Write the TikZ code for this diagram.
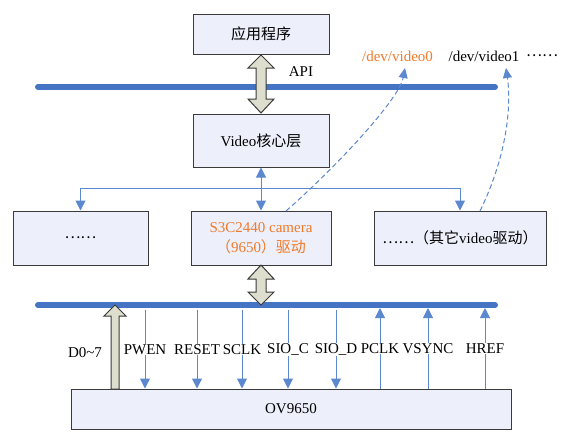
\documentclass[tikz,border=0pt]{standalone}
\usepackage{fontspec}
\setmainfont{Liberation Serif}
\newfontfamily\cjk{Noto Sans CJK SC}
\usetikzlibrary{arrows.meta}
\definecolor{boxfill}{HTML}{EDEFFA}
\definecolor{boxline}{HTML}{3A3A3A}
\definecolor{buscol}{HTML}{4674C4}
\definecolor{conncol}{HTML}{5C88D0}
\definecolor{fatfill}{HTML}{DEDECE}
\definecolor{orangetxt}{HTML}{F07A2A}
\tikzset{
  box/.style={draw=boxline, fill=boxfill, line width=1pt, inner sep=0pt, align=center},
  bus/.style={line width=6pt, draw=buscol, line cap=round},
  conn/.style={line width=1pt, draw=conncol},
  tipt/.style={-{Triangle[length=10pt,width=10pt]}},
  tipboth/.style={{Triangle[length=10pt,width=10pt]}-{Triangle[length=10pt,width=10pt]}},
  fat/.style={draw=boxline, fill=fatfill, line width=1pt, line join=miter},
  dashc/.style={line width=1pt, draw=conncol, dash pattern=on 5pt off 3pt},
  lbl/.style={fill=white, inner sep=0.5pt, text=black},
  txt/.style={inner sep=0pt}
}
\begin{document}
\begin{tikzpicture}[x=1pt,y=-1pt,font=\fontsize{15}{20}\selectfont]
\useasboundingbox (0,0) rectangle (566,434);
\fill[white] (0,0) rectangle (566,434);

% buses
\coordinate (b1l) at (38,87);
\coordinate (b1r) at (495,87);
\coordinate (b2l) at (38,305);
\coordinate (b2r) at (495,305);
\draw[bus] (b1l) -- (b1r);
\draw[bus] (b2l) -- (b2r);

% boxes
\node[box, minimum width=136pt, minimum height=40pt] (app) at (261,34) {{\cjk 应用程序}};
\node[box, minimum width=136pt, minimum height=53pt] (core) at (261,140.5) {Video{\cjk 核心层}};
\node[box, minimum width=135pt, minimum height=54pt] (left) at (80.5,238) {{\cjk ……}};
\node[box, minimum width=140pt, minimum height=54pt, text=orangetxt] (mid) at (261,238) {S3C2440 camera\\{\cjk （}9650{\cjk ）驱动}};
\node[box, minimum width=172pt, minimum height=54pt] (right) at (460,238) {{\cjk ……（其它}video{\cjk 驱动）}};
\node[box, minimum width=440pt, minimum height=40pt] (ov) at (291,409) {OV9650};

% labels
\node[txt] (api) at (301,72) {API};
\node[txt, text=orangetxt] (dv0) at (397.5,56) {/dev/video0};
\node[txt] (dv1) at (484,56) {/dev/video1};
\node[txt] (dots) at (542,56) {{\cjk ……}};
\node[txt] (d07) at (85,353) {D0\textasciitilde 7};

% fat double arrows
\draw[fat] (261,55) -- (274,68) -- (266,68) -- (266,99) -- (274,99) -- (261,113)
  -- (248,99) -- (256,99) -- (256,68) -- (248,68) -- cycle;
\draw[fat] (261,265) -- (274,279) -- (266,279) -- (266,292) -- (274,292) -- (261,305)
  -- (248,292) -- (256,292) -- (256,279) -- (248,279) -- cycle;
% D0~7 fat arrow
\draw[fat] (115,305) -- (126,316) -- (119,316) -- (119,389) -- (111,389) -- (111,316) -- (104,316) -- cycle;

% core <-> drivers
\coordinate (j) at (261,188);
\draw[conn, tipboth] (core.south) -- (mid.north);
\draw[conn, tipt] (j) -| (left.north);
\draw[conn, tipt] (j) -| (right.north);

% dashed links to device files
\coordinate (m0) at (286,211);
\coordinate (t0) at (405,68);
\coordinate (m1) at (480,211);
\coordinate (t1) at (506,68);
\draw[dashc, -{Triangle[length=10pt,width=9pt]}] (m0) .. controls (333,170) and (399,100) .. (t0);
\draw[dashc, -{Triangle[length=10pt,width=9pt]}] (m1) .. controls (505,160) and (512,110) .. (t1);

% signal lines
\coordinate (s1) at (145,310);
\coordinate (s2) at (197,310);
\coordinate (s3) at (242,310);
\coordinate (s4) at (288,310);
\coordinate (s5) at (336,310);
\coordinate (s6) at (380,308);
\coordinate (s7) at (428,308);
\coordinate (s8) at (485,308);
\draw[conn, tipt] (s1) -- node[lbl]{PWEN} (s1 |- ov.north);
\draw[conn, tipt] (s2) -- node[lbl]{RESET} (s2 |- ov.north);
\draw[conn, tipt] (s3) -- node[lbl]{SCLK} (s3 |- ov.north);
\draw[conn, tipt] (s4) -- node[lbl]{SIO\_C} (s4 |- ov.north);
\draw[conn, tipt] (s5) -- node[lbl]{SIO\_D} (s5 |- ov.north);
\draw[conn, tipt] (s6 |- ov.north) -- node[lbl]{PCLK} (s6);
\draw[conn, tipt] (s7 |- ov.north) -- node[lbl]{VSYNC} (s7);
\draw[conn, tipt] (s8 |- ov.north) -- node[lbl]{HREF} (s8);
\end{tikzpicture}
\end{document}
